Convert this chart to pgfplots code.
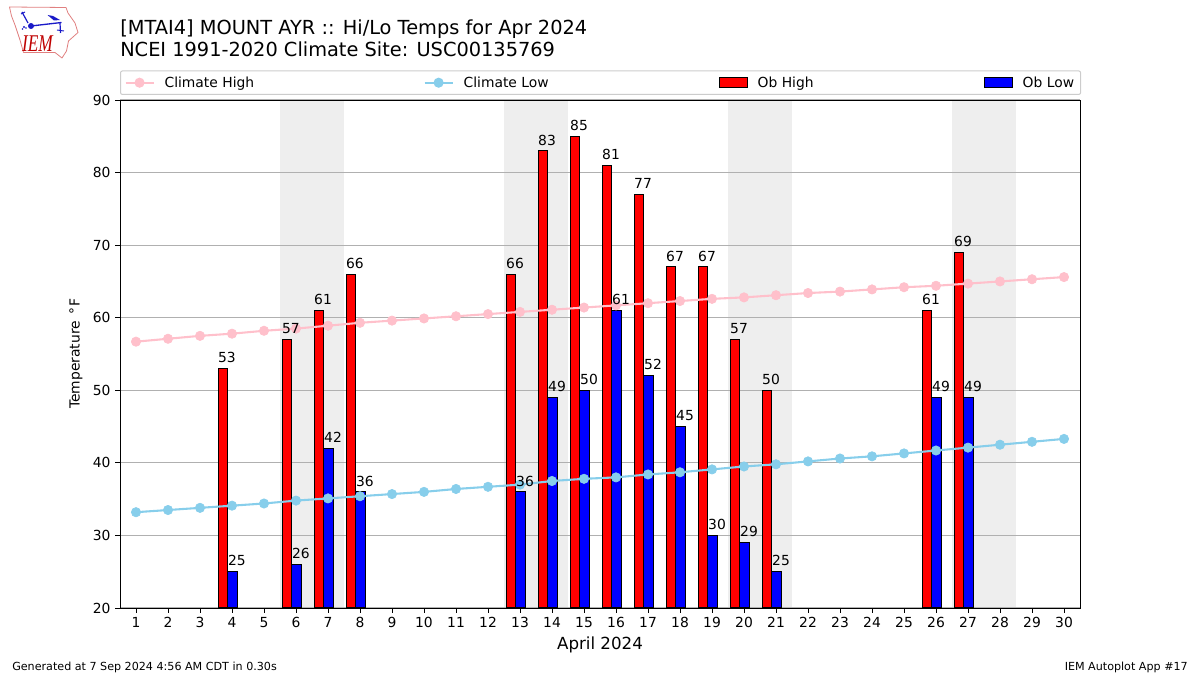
\documentclass[border=0pt]{standalone}
\usepackage{pgfplots}
\usepackage{pgfplotstable}
\usepackage{fontspec}
\pgfplotsset{compat=1.18}
\setmainfont{DejaVu Sans}
\newfontfamily\lserif{Liberation Serif}
\definecolor{climhi}{HTML}{FFC0CB}
\definecolor{climlo}{HTML}{87CEEB}
\definecolor{shade}{HTML}{EEEEEE}
\definecolor{gridc}{HTML}{B0B0B0}
\definecolor{legb}{HTML}{CCCCCC}
\definecolor{logor}{HTML}{E08080}
\definecolor{logob}{HTML}{1A1AC8}
\pgfplotstableread{
day hi
4 53
6 57
7 61
8 66
13 66
14 83
15 85
16 81
17 77
18 67
19 67
20 57
21 50
26 61
27 69
}\obhigh
\pgfplotstableread{
day lo
4 25
6 26
7 42
8 36
13 36
14 49
15 50
16 61
17 52
18 45
19 30
20 29
21 25
26 49
27 49
}\oblow
\pgfplotstableread{
day hi lo
1 56.7 33.2
2 57.1 33.5
3 57.5 33.8
4 57.8 34.1
5 58.2 34.4
6 58.5 34.8
7 58.9 35.1
8 59.3 35.4
9 59.6 35.7
10 59.9 36.0
11 60.2 36.4
12 60.5 36.7
13 60.8 37.0
14 61.1 37.5
15 61.4 37.8
16 61.7 38.0
17 62.0 38.4
18 62.3 38.7
19 62.6 39.1
20 62.8 39.5
21 63.1 39.8
22 63.4 40.2
23 63.6 40.6
24 63.9 40.9
25 64.2 41.3
26 64.4 41.7
27 64.7 42.1
28 65.0 42.5
29 65.3 42.9
30 65.6 43.3
}\climate
\begin{document}
\begin{tikzpicture}
\path (0,0) rectangle (900pt,506.25pt);
\begin{axis}[
  at={(90pt,50.25pt)}, anchor=south west,
  scale only axis, width=720pt, height=381pt,
  set layers,
  xmin=0.5, xmax=30.5, ymin=20, ymax=90,
  xtick={1,2,...,30}, ytick={20,30,...,90},
  ymajorgrids, grid style={gridc, line width=0.75pt},
  axis line style={black, line width=0.6pt},
  tick style={black, line width=0.6pt},
  major tick length=3.6pt,
  tick align=outside, xtick pos=lower, ytick pos=left,
  tick label style={font=\fontsize{10.4pt}{12pt}\selectfont},
  /pgf/number format/assume math mode=true,
  xticklabel style={yshift=0.3pt},
  legend cell align=left,
  legend columns=4,
  legend style={
    at={(axis description cs:0,1)}, anchor=south west, yshift=3.75pt,
    draw=legb, line width=0.75pt, rounded corners=1.5pt,
    inner xsep=3pt, inner ysep=3.9pt,
    nodes={inner sep=0pt},
    font=\fontsize{10.4pt}{12pt}\selectfont,
  },
]
% legend entries
\addlegendimage{legend image code/.code={
  \draw[climhi,line width=1.56pt] (0,0) -- (21pt,0);
  \fill[climhi] (10.5pt,0) circle (3.4pt);}}
\addlegendentry{\makebox[201.75pt][l]{\hspace{7.5pt}\strut Climate High}}
\addlegendimage{legend image code/.code={
  \draw[climlo,line width=1.56pt] (0,0) -- (21pt,0);
  \fill[climlo] (10.5pt,0) circle (3.4pt);}}
\addlegendentry{\makebox[198.75pt][l]{\hspace{7.5pt}\strut Climate Low}}
\addlegendimage{legend image code/.code={
  \draw[sharp corners,black,fill=red,line width=0.75pt] (0,-3.75pt) rectangle (21pt,3.75pt);}}
\addlegendentry{\makebox[177pt][l]{\hspace{7.5pt}\strut Ob High}}
\addlegendimage{legend image code/.code={
  \draw[sharp corners,black,fill=blue,line width=0.75pt] (0,-3.75pt) rectangle (21pt,3.75pt);}}
\addlegendentry{\makebox[48pt][l]{\hspace{7.5pt}\strut Ob Low}}
% weekend shading
\addplot[forget plot, on layer=axis background, fill=shade, draw=none] coordinates {(5.5,20)(7.5,20)(7.5,90)(5.5,90)} -- cycle;
\addplot[forget plot, on layer=axis background, fill=shade, draw=none] coordinates {(12.5,20)(14.5,20)(14.5,90)(12.5,90)} -- cycle;
\addplot[forget plot, on layer=axis background, fill=shade, draw=none] coordinates {(19.5,20)(21.5,20)(21.5,90)(19.5,90)} -- cycle;
\addplot[forget plot, on layer=axis background, fill=shade, draw=none] coordinates {(26.5,20)(28.5,20)(28.5,90)(26.5,90)} -- cycle;
% bars
\addplot[forget plot, ybar, bar width=0.3, bar shift=-0.285, draw=black, fill=red, line width=0.75pt] table[x=day,y=hi] {\obhigh};
\addplot[forget plot, ybar, bar width=0.3, bar shift=0.015, draw=black, fill=blue, line width=0.75pt] table[x=day,y=lo] {\oblow};
% climate lines
\addplot[forget plot, climhi, line width=1.56pt, mark=*, mark size=3.5pt, mark options={solid,fill=climhi,draw=climhi,line width=0.5pt}] table[x=day,y=hi] {\climate};
\addplot[forget plot, climlo, line width=1.56pt, mark=*, mark size=3.5pt, mark options={solid,fill=climlo,draw=climlo,line width=0.5pt}] table[x=day,y=lo] {\climate};
% value labels on top
\addplot[forget plot, ybar, bar width=0.3, bar shift=-0.285, draw=none, fill=none,
  nodes near coords, nodes near coords style={font=\fontsize{10.4pt}{12pt}\selectfont, text=black, anchor=south, xshift=-3.75pt, yshift=2.5pt, inner sep=1.5pt, /pgf/number format/assume math mode=true}]
  table[x=day,y=hi] {\obhigh};
\addplot[forget plot, ybar, bar width=0.3, bar shift=0.015, draw=none, fill=none,
  nodes near coords, nodes near coords style={font=\fontsize{10.4pt}{12pt}\selectfont, text=black, anchor=south, xshift=3.75pt, yshift=2.5pt, inner sep=1.5pt, /pgf/number format/assume math mode=true}]
  table[x=day,y=lo] {\oblow};
\end{axis}
\begin{scope}[x=0.75pt,y=-0.75pt,yshift=506.25pt]
% titles and captions
\node[anchor=base west,inner sep=0pt,font=\fontsize{14.52pt}{17pt}\selectfont] at (120,35) {[MTAI4] MOUNT AYR :: Hi/Lo Temps for Apr 2024};
\node[anchor=base west,inner sep=0pt,font=\fontsize{14.52pt}{17pt}\selectfont] at (120,57) {NCEI 1991-2020 Climate Site: USC00135769};
\node[anchor=base,inner sep=0pt,font=\fontsize{12.5pt}{15pt}\selectfont] at (600,649) {April 2024};
\node[rotate=90,anchor=center,inner sep=0pt,font=\fontsize{10.4pt}{12pt}\selectfont] at (76,353.5) {Temperature \,°\hspace{0.8pt}F};
\node[anchor=base west,inner sep=0pt,font=\fontsize{8.35pt}{10pt}\selectfont] at (12,670) {Generated at 7 Sep 2024 4:56 AM CDT in 0.30s};
\node[anchor=base east,inner sep=0pt,font=\fontsize{8.35pt}{10pt}\selectfont] at (1188,670) {IEM Autoplot App \#17};
% logo
\draw[logor,line width=0.6pt,line join=round] (9.5,7) -- (66,7.5) -- (68,13) -- (75,23) -- (78,32.5) -- (68.5,41) -- (66.5,51) -- (62,58) -- (55,52.5) -- (23.5,52.5) -- (20,40) -- (15,25) -- (11.5,16) -- cycle;
\draw[logob,line width=1pt] (31,26) -- (61.5,22.5);
\fill[logob] (31,26) circle (3);
\draw[logob,line width=0.9pt] (22,12) -- (28,23);
\draw[logob,line width=0.7pt] (21,14) -- (25,12);
\fill[logob] (47.5,15) -- (53,16) -- (60,20) -- (54,20.5) -- cycle;
\draw[logob,line width=0.9pt] (60,23) -- (60.5,33);
\draw[logob,line width=0.7pt] (57,30) -- (64,31);
\fill[logob] (24,27) circle (1.2) (26,28) circle (0.9) (22.5,29) circle (0.9);
\node[anchor=base,inner sep=0pt,text=red!75!black,xscale=0.72,font=\lserif\itshape\fontsize{18pt}{20pt}\selectfont] at (37.5,51.5) {IEM};
\end{scope}
\end{tikzpicture}
\end{document}
